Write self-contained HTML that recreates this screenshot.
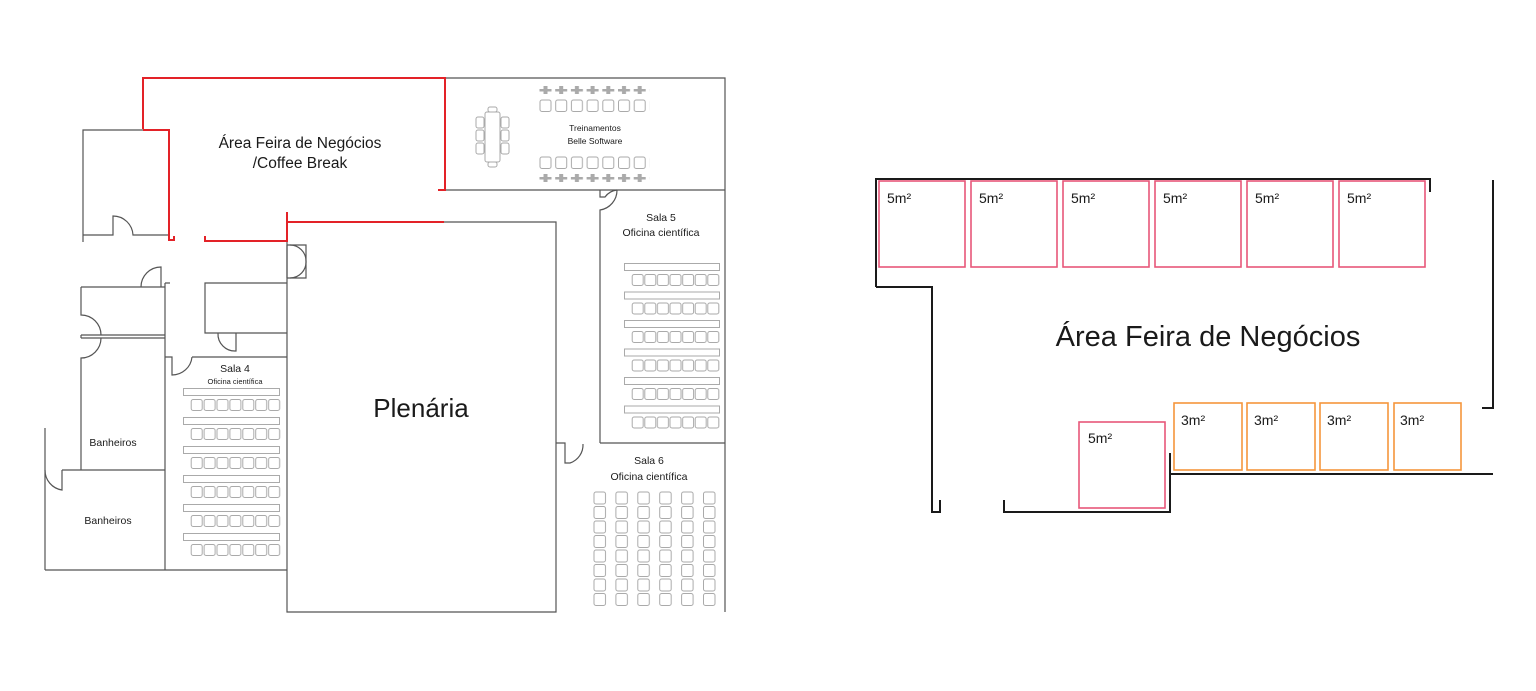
<!DOCTYPE html>
<html><head><meta charset="utf-8"><style>
html,body{margin:0;padding:0;background:#fff;}
svg{display:block;}
text{font-family:"Liberation Sans",sans-serif;fill:#1a1a1a;}
</style></head><body>
<svg width="1536" height="691" viewBox="0 0 1536 691" xmlns="http://www.w3.org/2000/svg">
<defs>
<pattern id="ch4" patternUnits="userSpaceOnUse" x="190.5" y="399" width="12.9" height="29">
<rect x="0.7" y="0.5" width="11" height="11" rx="2" fill="none" stroke="#aaa" stroke-width="1"/>
</pattern>
<pattern id="ch5" patternUnits="userSpaceOnUse" x="631.5" y="274" width="12.6" height="28.5">
<rect x="0.7" y="0.5" width="11" height="11" rx="2" fill="none" stroke="#aaa" stroke-width="1"/>
</pattern>
<pattern id="ch6" patternUnits="userSpaceOnUse" x="593.5" y="491.5" width="21.9" height="14.5">
<rect x="0.5" y="0.5" width="11.5" height="12" rx="2" fill="none" stroke="#aaa" stroke-width="1"/>
</pattern>
<pattern id="cht" patternUnits="userSpaceOnUse" x="539.5" y="0" width="15.7" height="300">
<rect x="0.5" y="100" width="11" height="11.5" rx="2" fill="none" stroke="#aaa" stroke-width="1"/>
<rect x="0.5" y="157" width="11" height="11.5" rx="2" fill="none" stroke="#aaa" stroke-width="1"/>
<rect x="0" y="89" width="12" height="2.5" fill="#aaa"/>
<rect x="4" y="86" width="4" height="8" fill="#aaa"/>
<rect x="0" y="177" width="12" height="2.5" fill="#aaa"/>
<rect x="4" y="174" width="4" height="8" fill="#aaa"/>
</pattern>
</defs>

<g fill="none" stroke="#555" stroke-width="1.2">
<path d="M445 78 H725 V612"/>
<path d="M438 190 H725"/>
<path d="M600 190 V197 H605 A17 17 0 0 1 617 190"/>
<path d="M617 190 A20 20 0 0 1 600 210 V443"/>
<path d="M600 443 H725"/>
<path d="M556 443 H565 V463 H570 A19 19 0 0 0 583 444"/>
<path d="M444 222 H556 V612 H287 V241"/>
<path d="M287 245 H306 V278 H287"/>
<path d="M290 245 A16 16 0 0 1 306 261 A16 16 0 0 1 290 278"/>
<path d="M287 245 V278"/>
<path d="M287 283 H205 V333 H287"/>
<path d="M218 333 A17 17 0 0 0 236 351 V333"/>
<path d="M287 357 H192"/>
<path d="M165 357 H172 V375 A20 20 0 0 0 192 357"/>
<path d="M165 283 H170 M165 283 V570"/>
<path d="M45 570 H287"/>
<path d="M83 242 V130 H143"/>
<path d="M83 235 H113 V216 A20 20 0 0 1 133 235 H169"/>
<path d="M81 287 H165"/>
<path d="M141 287 A20 20 0 0 1 161 267 V287"/>
<path d="M81 287 V315 A20 20 0 0 1 101 335"/>
<path d="M81 335 H165 M81 338 H165 M81 335 V338"/>
<path d="M101 338 A20 20 0 0 1 81 358 V470"/>
<path d="M62 470 H165"/>
<path d="M45 428 V570"/>
<path d="M45 470 A20 20 0 0 0 62 490 V470"/>
</g>

<g fill="none" stroke="#e32228" stroke-width="2">
<path d="M143 129 V78 H445 V190 H438"/>
<path d="M143 130 H169 V240 H174 V236"/>
<path d="M205 236 V241 H287 V212"/>
<path d="M287 222 H444"/>
</g>

<rect x="190.5" y="398" width="90.3" height="160" fill="url(#ch4)"/>
<g fill="none" stroke="#aaa" stroke-width="1">
<rect x="183.5" y="388.5" width="96" height="7"/><rect x="183.5" y="417.5" width="96" height="7"/><rect x="183.5" y="446.5" width="96" height="7"/><rect x="183.5" y="475.5" width="96" height="7"/><rect x="183.5" y="504.5" width="96" height="7"/><rect x="183.5" y="533.5" width="96" height="7"/>
<rect x="624.5" y="263.5" width="95" height="7"/><rect x="624.5" y="292" width="95" height="7"/><rect x="624.5" y="320.5" width="95" height="7"/><rect x="624.5" y="349" width="95" height="7"/><rect x="624.5" y="377.5" width="95" height="7"/><rect x="624.5" y="406" width="95" height="7"/>
<rect x="485" y="112" width="15" height="50" rx="2"/>
<rect x="488" y="107" width="9" height="5" rx="2"/><rect x="488" y="162" width="9" height="5" rx="2"/>
<rect x="476" y="117" width="8" height="11" rx="2"/><rect x="476" y="130" width="8" height="11" rx="2"/><rect x="476" y="143" width="8" height="11" rx="2"/>
<rect x="501" y="117" width="8" height="11" rx="2"/><rect x="501" y="130" width="8" height="11" rx="2"/><rect x="501" y="143" width="8" height="11" rx="2"/>
</g>
<rect x="631.5" y="273" width="88.2" height="160" fill="url(#ch5)"/>
<rect x="593" y="491" width="125" height="116" fill="url(#ch6)"/>
<rect x="539.5" y="84" width="109.9" height="100" fill="url(#cht)"/>

<text x="300" y="148" font-size="15.5" text-anchor="middle">Área Feira de Negócios</text>
<text x="300" y="168" font-size="15.5" text-anchor="middle">/Coffee Break</text>
<text x="595" y="131" font-size="8.5" text-anchor="middle">Treinamentos</text>
<text x="595" y="144" font-size="8.5" text-anchor="middle">Belle Software</text>
<text x="661" y="221" font-size="10.5" text-anchor="middle">Sala 5</text>
<text x="661" y="236" font-size="10.5" text-anchor="middle">Oficina científica</text>
<text x="235" y="372" font-size="10.5" text-anchor="middle">Sala 4</text>
<text x="235" y="384" font-size="7.5" text-anchor="middle">Oficina científica</text>
<text x="421" y="417" font-size="26" text-anchor="middle">Plenária</text>
<text x="649" y="464" font-size="10.5" text-anchor="middle">Sala 6</text>
<text x="649" y="480" font-size="10.5" text-anchor="middle">Oficina científica</text>
<text x="113" y="446" font-size="10.5" text-anchor="middle">Banheiros</text>
<text x="108" y="524" font-size="10.5" text-anchor="middle">Banheiros</text>

<g fill="none" stroke="#1a1a1a" stroke-width="2">
<path d="M876 287 V179 H1430 V192"/>
<path d="M876 287 H932 V512 H940 V500"/>
<path d="M1004 500 V512 H1170 V453"/>
<path d="M1170 474 H1493"/>
<path d="M1493 180 V408 H1482"/>
</g>
<g fill="none" stroke="#e8577a" stroke-width="1.6">
<rect x="879" y="181" width="86" height="86"/><rect x="971" y="181" width="86" height="86"/><rect x="1063" y="181" width="86" height="86"/><rect x="1155" y="181" width="86" height="86"/><rect x="1247" y="181" width="86" height="86"/><rect x="1339" y="181" width="86" height="86"/>
<rect x="1079" y="422" width="86" height="86"/>
</g>
<g fill="none" stroke="#f5963c" stroke-width="1.6">
<rect x="1174" y="403" width="68" height="67"/><rect x="1247" y="403" width="68" height="67"/><rect x="1320" y="403" width="68" height="67"/><rect x="1394" y="403" width="67" height="67"/>
</g>
<g font-size="14">
<text x="887" y="203">5m²</text><text x="979" y="203">5m²</text><text x="1071" y="203">5m²</text><text x="1163" y="203">5m²</text><text x="1255" y="203">5m²</text><text x="1347" y="203">5m²</text>
<text x="1088" y="443">5m²</text>
<text x="1181" y="425">3m²</text><text x="1254" y="425">3m²</text><text x="1327" y="425">3m²</text><text x="1400" y="425">3m²</text>
</g>
<text x="1208" y="346" font-size="29" text-anchor="middle">Área Feira de Negócios</text>
</svg>
</body></html>
